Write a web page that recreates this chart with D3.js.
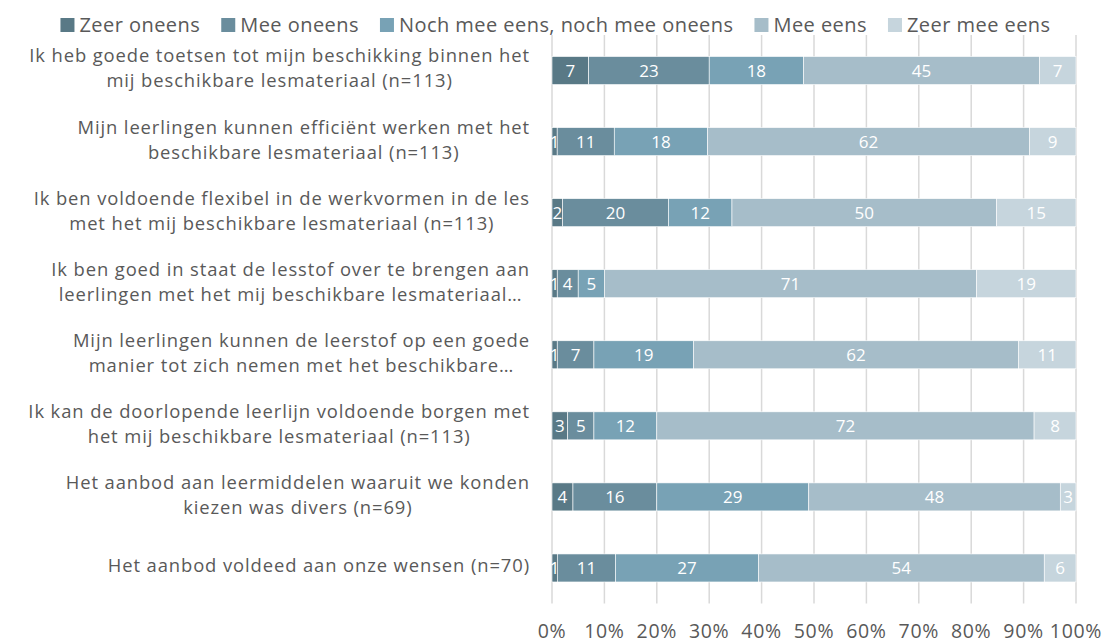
<!DOCTYPE html>
<html>
<head>
<meta charset="utf-8">
<script src="https://cdn.jsdelivr.net/npm/d3@7"></script>
<style>
  body { margin:0; background:#fff; }
  svg { display:block; font-family:"Open Sans", sans-serif; }
</style>
</head>
<body>
<div id="chart"></div>
<script>
// answer categories, left to right
const series = ["Zeer oneens", "Mee oneens", "Noch mee eens, noch mee oneens", "Mee eens", "Zeer mee eens"];
const colors = ["#597986", "#6a8d9d", "#78a2b5", "#a6bdc9", "#c6d5dd"];

// statements, top to bottom (each label split in lines as in the chart)
const statements = [
  ["Ik heb goede toetsen tot mijn beschikking binnen het", "mij beschikbare lesmateriaal (n=113)"],
  ["Mijn leerlingen kunnen efficiënt werken met het", "beschikbare lesmateriaal (n=113)"],
  ["Ik ben voldoende flexibel in de werkvormen in de les", "met het mij beschikbare lesmateriaal (n=113)"],
  ["Ik ben goed in staat de lesstof over te brengen aan", "leerlingen met het mij beschikbare lesmateriaal…"],
  ["Mijn leerlingen kunnen de leerstof op een goede", "manier tot zich nemen met het beschikbare…"],
  ["Ik kan de doorlopende leerlijn voldoende borgen met", "het mij beschikbare lesmateriaal (n=113)"],
  ["Het aanbod aan leermiddelen waaruit we konden", "kiezen was divers (n=69)"],
  ["Het aanbod voldeed aan onze wensen (n=70)"]
];

// percentages per statement, one array per answer category
const zeerOneens   = [7, 1, 2, 1, 1, 3, 4, 1];
const meeOneens    = [23, 11, 20, 4, 7, 5, 16, 11];
const noch         = [18, 18, 12, 5, 19, 12, 29, 27];
const meeEens      = [45, 62, 50, 71, 62, 72, 48, 54];
const zeerMeeEens  = [7, 9, 15, 19, 11, 8, 3, 6];

const tickValues = [0, 0.1, 0.2, 0.3, 0.4, 0.5, 0.6, 0.7, 0.8, 0.9, 1];

const width = 1105, height = 644;
const plot = { left: 552, right: 1076, top: 35, bottom: 603.5 };
const textColor = "#595959";

const valueCols = [zeerOneens, meeOneens, noch, meeEens, zeerMeeEens];
const rows = statements.map((lines, i) => {
  const vals = valueCols.map(c => c[i]);
  const total = d3.sum(vals);
  let acc = 0;
  const segs = vals.map((v, k) => {
    const s = { key: k, value: v, x0: acc / total, x1: (acc + v) / total };
    acc += v;
    return s;
  });
  return { id: i, lines, segs };
});

const svg = d3.select("#chart").append("svg")
  .attr("width", width).attr("height", height);

const x = d3.scaleLinear().domain([0, 1]).range([plot.left, plot.right]);
const y = d3.scaleBand()
  .domain(rows.map(d => d.id))
  .range([plot.top, plot.bottom])
  .paddingInner(0.606)
  .paddingOuter(0.303);

// gridlines
svg.append("g")
  .selectAll("line")
  .data(tickValues)
  .join("line")
  .attr("x1", d => x(d)).attr("x2", d => x(d))
  .attr("y1", plot.top).attr("y2", plot.bottom)
  .attr("stroke", "#d9d9d9")
  .attr("stroke-width", 1.5);

// x tick labels
svg.append("g")
  .selectAll("text")
  .data(tickValues)
  .join("text")
  .attr("x", d => x(d))
  .attr("y", 638)
  .attr("text-anchor", "middle")
  .attr("font-size", 19.5)
  .attr("letter-spacing", 0.7)
  .attr("fill", textColor)
  .text(d3.format(".0%"));

// bars
const rowG = svg.append("g")
  .selectAll("g")
  .data(rows)
  .join("g")
  .attr("transform", d => `translate(0,${y(d.id)})`);

rowG.selectAll("rect")
  .data(d => d.segs)
  .join("rect")
  .attr("x", d => x(d.x0))
  .attr("width", d => x(d.x1) - x(d.x0))
  .attr("height", y.bandwidth())
  .attr("fill", d => colors[d.key])
  .attr("stroke", "#ffffff")
  .attr("stroke-width", 0.6);

rowG.selectAll("text")
  .data(d => d.segs)
  .join("text")
  .attr("x", d => (x(d.x0) + x(d.x1)) / 2)
  .attr("y", y.bandwidth() / 2)
  .attr("dy", "0.36em")
  .attr("text-anchor", "middle")
  .attr("font-size", 17)
  .attr("fill", "#ffffff")
  .text(d => d.value);

// category labels: lines centred on each other, block right-aligned
const labelRight = 530;
const lineH = 25;
const labG = svg.append("g");
rows.forEach(r => {
  const cy = y(r.id) + y.bandwidth() / 2 - 2;
  const t = labG.append("text")
    .attr("font-size", 18.4)
    .attr("letter-spacing", 0.9)
    .attr("fill", textColor)
    .attr("text-anchor", "middle");
  const spans = r.lines.map((ln, j) =>
    t.append("tspan")
      .attr("y", cy + (j - (r.lines.length - 1) / 2) * lineH)
      .attr("dy", "0.35em")
      .text(ln));
  const maxW = d3.max(spans, s => s.node().getComputedTextLength());
  spans.forEach(s => s.attr("x", labelRight - maxW / 2));
});

// legend, centred at the top
const legend = svg.append("g");
const items = legend.selectAll("g")
  .data(series)
  .join("g");
items.append("rect")
  .attr("width", 14).attr("height", 14)
  .attr("y", 18)
  .attr("fill", (d, i) => colors[i]);
items.append("text")
  .attr("x", 19)
  .attr("y", 25)
  .attr("dy", "0.35em")
  .attr("font-size", 20)
  .attr("letter-spacing", 0.45)
  .attr("fill", textColor)
  .text(d => d);
let lx = 0;
items.each(function () {
  const g = d3.select(this);
  g.attr("transform", `translate(${lx},0)`);
  lx += 19 + g.select("text").node().getComputedTextLength() + 21;
});
const legendW = lx - 21;
legend.attr("transform", `translate(${(width - legendW) / 2 + 3},0)`);
</script>
</body>
</html>
